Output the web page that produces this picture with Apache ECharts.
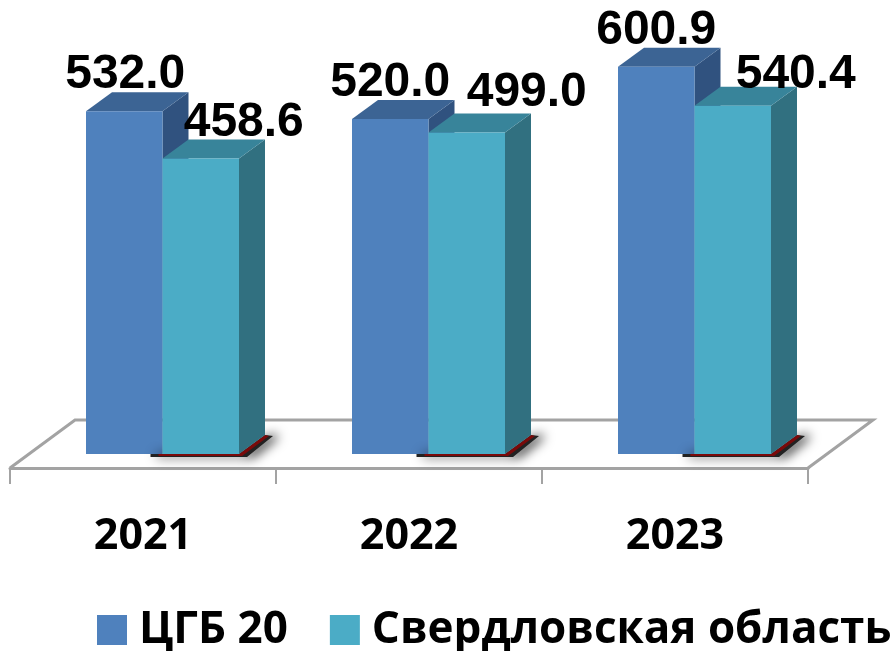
<!DOCTYPE html>
<html>
<head>
<meta charset="utf-8">
<style>
html, body { margin: 0; padding: 0; background: #fff; }
#main { width: 895px; height: 651px; }
</style>
<script src="https://cdn.jsdelivr.net/npm/echarts@6/dist/echarts.min.js"></script>
</head>
<body>
<div id="main"></div>
<script>
var years = ['2021', '2022', '2023'];
var cgbValues = [532.0, 520.0, 600.9];
var regionValues = [458.6, 499.0, 540.4];
var seriesNames = ['ЦГБ 20', 'Свердловская область'];

var chart = echarts.init(document.getElementById('main'));

// oblique 3d look: floor depth and bar depth in px
var floorDx = 65, floorDy = 48;
var barDx = 26, barDy = 19;
var shiftX = 19.5, shiftY = 14;
var barW = 76.5;

// labels were moved by hand in the original
var blueLabelShift = [1, 0, 0];
var tealLabelShift = [43, 60, 63];
var tealLabelLift = [0, 4, -5];

function barItem(colors, side, labelShift, labelLift) {
    return function (params, api) {
        var i = api.value(0);
        var val = api.value(1);
        var base = api.coord([i, 0]);
        var top = api.coord([i, val]);
        var x0 = base[0] + shiftX + (side === 0 ? -barW : 0);
        var x1 = x0 + barW;
        var y0 = base[1] - shiftY;
        var y1 = top[1] - shiftY;
        var children = [];
        if (side === 1) {
            // dark shadow on the floor, only visible right of the front bar
            var shadowPts = [[x0 - 12, y0], [x1, y0], [x1 + barDx, y0 - barDy], [x1 + barDx + 8, y0 - barDy + 1], [x1 + 8, y0 + 3], [x0 - 12, y0 + 3]];
            children.push({
                type: 'polygon',
                shape: { points: shadowPts },
                style: { fill: '#222', shadowBlur: 12, shadowColor: 'rgba(0,0,0,1)', shadowOffsetX: 6, shadowOffsetY: 0 }
            });
            children.push({
                type: 'polygon',
                shape: { points: [[x0 - 4, y0], [x1, y0], [x1 + barDx, y0 - barDy], [x1 + barDx + 4, y0 - barDy + 1], [x1 + 3, y0 + 2], [x0 - 4, y0 + 2]] },
                style: { fill: '#7a0a0a' }
            });
        }
        children.push({
            type: 'polygon',
            shape: { points: [[x1, y1], [x1 + barDx, y1 - barDy], [x1 + barDx, y0 - barDy], [x1, y0]] },
            style: { fill: colors.side }
        });
        children.push({
            type: 'polygon',
            shape: { points: [[x0, y1], [x0 + barDx, y1 - barDy], [x1 + barDx, y1 - barDy], [x1, y1]] },
            style: { fill: colors.top }
        });
        children.push({
            type: 'rect',
            shape: { x: x0, y: y1, width: barW, height: y0 - y1 },
            style: { fill: colors.front }
        });
        children.push({
            type: 'text',
            z2: 50,
            style: {
                x: (x0 + x1) / 2 + labelShift[i],
                y: y1 - barDy + 7 - labelLift[i],
                text: val.toFixed(1),
                fill: '#000',
                font: 'bold 48px "Liberation Sans"',
                align: 'center',
                verticalAlign: 'bottom'
            }
        });
        return { type: 'group', children: children };
    };
}

function floorItem(params, api) {
    var cs = params.coordSys;
    var yf = cs.y + cs.height;
    var xl = cs.x, xr = cs.x + cs.width;
    return {
        type: 'polyline',
        shape: { points: [[xl, yf], [xl + floorDx, yf - floorDy], [xr + floorDx, yf - floorDy], [xr, yf]] },
        style: { stroke: '#a3a3a3', lineWidth: 3, fill: 'none' }
    };
}

function pairs(arr) {
    return arr.map(function (v, i) { return [i, v]; });
}

chart.setOption({
    animation: false,
    backgroundColor: '#fff',
    grid: { left: 10, right: 87, top: 17, bottom: 183 },
    legend: {
        left: 97,
        top: 608,
        padding: 0,
        width: 1000,
        itemWidth: 30,
        itemHeight: 30,
        itemGap: 42,
        icon: 'rect',
        data: seriesNames,
        textStyle: { fontFamily: 'Open Sans', fontWeight: 'bold', fontSize: 44, color: '#000', padding: [0, 0, 0, 7] }
    },
    xAxis: {
        type: 'category',
        data: years,
        axisLine: { lineStyle: { color: '#a3a3a3', width: 3 } },
        axisTick: { show: true, alignWithLabel: false, interval: 0, length: 16, lineStyle: { color: '#a3a3a3', width: 2 } },
        axisLabel: { margin: 47, fontFamily: 'Open Sans', fontWeight: 'bold', fontSize: 43, color: '#000' }
    },
    yAxis: {
        type: 'value',
        min: 0,
        max: 700,
        show: false
    },
    series: [
        { type: 'custom', silent: true, z: 1, renderItem: floorItem, data: [[0, 0]], clip: false },
        {
            name: seriesNames[0], type: 'custom', z: 3, clip: false,
            itemStyle: { color: '#4f81bd' },
            renderItem: barItem({ front: '#4f81bd', top: '#3c6494', side: '#30527f' }, 0, blueLabelShift, [0, 0, 0]),
            encode: { x: 0, y: 1 },
            data: pairs(cgbValues)
        },
        {
            name: seriesNames[1], type: 'custom', z: 4, clip: false,
            itemStyle: { color: '#4bacc6' },
            renderItem: barItem({ front: '#4bacc6', top: '#38849a', side: '#317080' }, 1, tealLabelShift, tealLabelLift),
            encode: { x: 0, y: 1 },
            data: pairs(regionValues)
        }
    ]
});
</script>
</body>
</html>
